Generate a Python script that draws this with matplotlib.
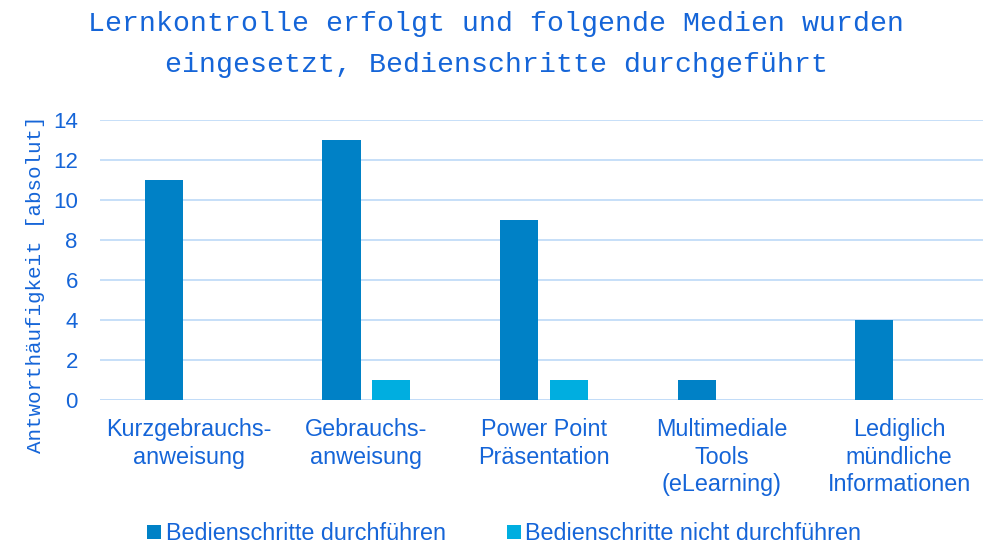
import matplotlib.pyplot as plt
import numpy as np

categories = ["Kurzgebrauchs-\nanweisung", "Gebrauchs-\nanweisung", "Power Point\nPräsentation",
              "Multimediale\nTools\n(eLearning)", "Lediglich\nmündliche\nInformationen"]
durchfuehren = [11, 13, 9, 1, 4]
nicht_durchfuehren = [0, 1, 1, 0, 0]
series_names = ["Bedienschritte durchführen", "Bedienschritte nicht durchführen"]
y_ticks = [0, 2, 4, 6, 8, 10, 12, 14]

text_col = "#1565D8"
dark = "#0081C6"
light = "#00AEE0"

plt.rcParams['font.family'] = ['Liberation Sans', 'DejaVu Sans']

fig = plt.figure(figsize=(9.83, 5.47), dpi=100)
ax = fig.add_axes([100/983, (547-400)/547, (988-100)/983, 280/547])

x = np.arange(len(categories))
w = 0.215
ax.bar(x - 0.14, durchfuehren, w, color=dark, label=series_names[0], zorder=3)
ax.bar(x + 0.14, nicht_durchfuehren, w, color=light, label=series_names[1], zorder=3)

ax.set_xlim(-0.5, 4.5)
ax.set_ylim(0, 14)
ax.set_yticks(y_ticks)
ax.yaxis.grid(True, color="#C2DCF8", linewidth=1.3, zorder=0)
ax.set_axisbelow(True)
for s in ax.spines.values():
    s.set_visible(False)
ax.axhline(0, color="#C2DCF8", linewidth=1.3, zorder=1)
ax.tick_params(axis='both', length=0, labelcolor=text_col)
ax.tick_params(axis='y', pad=16, labelsize=16)
ax.tick_params(axis='x', pad=13, labelsize=16.8)
ax.set_xticks(x)
ax.set_xticklabels(categories, linespacing=1.25)

ax.set_ylabel("Antworthäufigkeit [absolut]", family=['Liberation Mono', 'DejaVu Sans'],
              fontsize=15, color=text_col)
ax.yaxis.set_label_coords(-0.062, 0.414)

fig.text(0.505, 0.918, "Lernkontrolle erfolgt und folgende Medien wurden\neingesetzt, Bedienschritte durchgeführt",
         ha='center', va='center', family=['Liberation Mono', 'DejaVu Sans'], fontsize=20.3,
         color=text_col, linespacing=1.75)

fig.legend(loc='lower center', bbox_to_anchor=(0.513, -0.035), ncol=2, frameon=False,
           fontsize=16.8, labelcolor=text_col, handlelength=0.6, handleheight=0.6,
           handletextpad=0.2, columnspacing=2.6)

fig.savefig("out.png", dpi=100)
